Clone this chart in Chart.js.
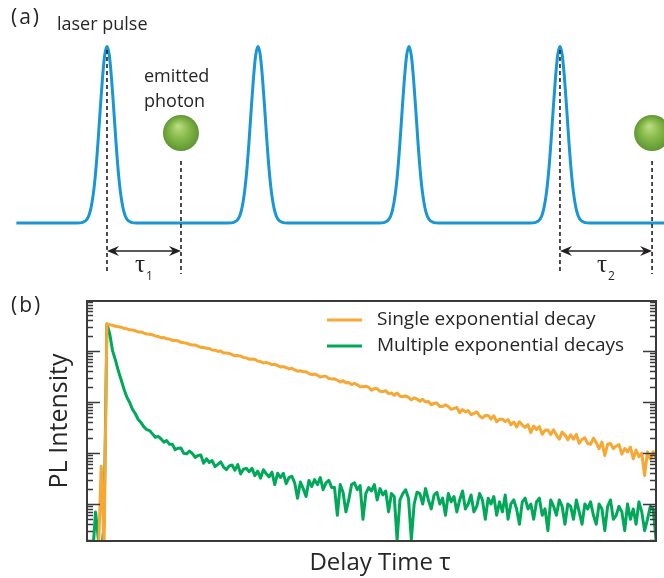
<!DOCTYPE html>
<html>
<head>
<meta charset="utf-8">
<script src="https://cdn.jsdelivr.net/npm/chart.js@4.4.0/dist/chart.umd.min.js"></script>
<style>
  html, body { margin: 0; padding: 0; background: #fff; }
  #wrap { position: relative; width: 664px; height: 578px; }
  canvas { position: absolute; left: 0; }
  #pulses { top: 0; }
  #decay { top: 290px; }
</style>
</head>
<body>
<div id="wrap">
  <canvas id="pulses" width="664" height="290"></canvas>
  <canvas id="decay" width="664" height="288"></canvas>
</div>
<script>
// ---- panel (a): laser pulse train, time in units where the pulse period is 10
const pulseTimes = [10, 20, 30, 40];
const pulseDt = [-2.0, -1.6, -1.3, -1.1, -0.9, -0.75, -0.6, -0.45, -0.3, -0.15, 0, 0.15, 0.3, 0.45, 0.6, 0.75, 0.9, 1.1, 1.3, 1.6, 2.0];
const pulseLevel = [0, 0.004, 0.024, 0.07, 0.169, 0.29, 0.453, 0.641, 0.82, 0.952, 1, 0.952, 0.82, 0.641, 0.453, 0.29, 0.169, 0.07, 0.024, 0.004, 0];
const traceStart = 4.0, traceEnd = 47;
const photonPulse = [0, 3];      // which pulse each photon follows
const photonDelay = [4.9, 6.1];  // tau_1, tau_2
const tauSubs = ['1', '2'];

// ---- panel (b): PL decay histograms, 0.5 ns bins
const timeBins = Array.from({ length: 201 }, (_, i) => -3.5 + 0.5 * i);
const seriesLabels = ['Single exponential decay', 'Multiple exponential decays'];
const singleDecay = [
  1, 1, 1, 1, 1, 55, 1.5,
  33800, 32610, 31960, 30440, 29910, 29260, 27840, 27200, 25940, 25700,
  24850, 23680, 23630, 22430, 21490, 21280, 20740, 19680, 19270, 18270,
  18350, 17430, 17130, 16160, 15990, 15820, 14800, 14460, 14250, 13430,
  13080, 13090, 12480, 11720, 11800, 11280, 11160, 10450, 10360, 9850,
  9950, 9150, 9090, 8950, 8450, 8040, 8110, 7940, 7470, 7320,
  6890, 6930, 6860, 6330, 6230, 5800, 5990, 5720, 5400, 5470,
  5190, 4840, 4950, 4750, 4440, 4570, 4240, 4020, 4090, 3910,
  3920, 3610, 3430, 3530, 3360, 3080, 3180, 3180, 2880, 2830,
  2840, 2670, 2460, 2610, 2380, 2400, 2200, 2330, 2170, 1990,
  1990, 2040, 1940, 1710, 1830, 1820, 1620, 1610, 1660, 1460,
  1500, 1350, 1500, 1310, 1260, 1320, 1230, 1100, 1210, 1140,
  1030, 1130, 1000, 1020, 880, 940, 950, 815, 817, 883,
  818, 717, 751, 778, 615, 710, 638, 677, 567, 595,
  638, 533, 487, 543, 545, 462, 537, 409, 460, 458,
  412, 451, 358, 403, 324, 409, 353, 317, 359, 251,
  338, 287, 328, 232, 279, 282, 230, 284, 225, 187,
  257, 227, 181, 226, 187, 231, 154, 184, 198, 153,
  148, 195, 160, 122, 164, 89, 149, 154, 122, 137,
  146, 95, 122, 105, 131, 77, 114, 85, 99, 36,
  105, 76, 106, 80
];
const multiDecay = [
  1, 1, 1, 7, 2, 1, 4,
  33800, 21580, 10030, 6600, 4083, 2734, 1782, 1248, 977, 716,
  588, 453, 394, 324, 288, 275, 237, 203, 212, 190,
  163, 175, 148, 148, 116, 124, 125, 99, 96, 109,
  98, 82, 89, 91, 63, 77, 65, 71, 54, 60,
  67, 53, 47, 56, 58, 46, 59, 39, 48, 50,
  43, 50, 36, 44, 32, 47, 39, 34, 42, 24,
  40, 33, 40, 25, 33, 35, 26, 13, 27, 20,
  14, 29, 22, 30, 24, 33, 19, 26, 29, 21,
  21, 6, 24, 17, 7, 12, 24, 26, 19, 23,
  5, 16, 21, 18, 24, 12, 20, 15, 18, 7,
  16, 14, 2, 12, 16, 19, 13, 2, 10, 17,
  16, 10, 20, 12, 8, 15, 17, 10, 13, 6,
  16, 11, 14, 7, 12, 18, 8, 10, 15, 7,
  9, 16, 12, 5, 13, 10, 14, 6, 11, 7,
  15, 5, 10, 12, 8, 4, 11, 13, 8, 10,
  5, 11, 13, 6, 8, 3, 12, 9, 6, 12,
  9, 4, 10, 9, 5, 12, 7, 4, 10, 8,
  11, 6, 4, 10, 8, 3, 9, 12, 5, 6,
  9, 7, 3, 10, 5, 8, 4, 11, 7, 3,
  5, 9, 8, 2
];

const FONT = '"Open Sans", "Noto Sans", sans-serif';
const TEXT = '#262626';
const BLUE = '#1a96d4';
const ORANGE = '#f7a733';
const GREEN = '#00a85a';
const INK = '#231f20';

const pulseTrain = [{ x: traceStart, y: 0 }];
pulseTimes.forEach(t0 => pulseDt.forEach((dt, k) => pulseTrain.push({ x: t0 + dt, y: pulseLevel[k] })));
pulseTrain.push({ x: traceEnd, y: 0 });

function dashed(ctx, x, y1, y2) {
  ctx.beginPath();
  ctx.moveTo(x, y1);
  ctx.lineTo(x, y2);
  ctx.stroke();
}
function arrowHead(ctx, x, y, dir) {
  ctx.beginPath();
  ctx.moveTo(x, y);
  ctx.lineTo(x + dir * 12, y - 5);
  ctx.lineTo(x + dir * 8, y);
  ctx.lineTo(x + dir * 12, y + 5);
  ctx.closePath();
  ctx.fill();
}
function sphere(ctx, cx, cy, r) {
  const g = ctx.createRadialGradient(cx - 3, cy - 7, 1, cx, cy, r);
  g.addColorStop(0, '#b8da80');
  g.addColorStop(0.45, '#8bbd4d');
  g.addColorStop(1, '#5e9632');
  ctx.fillStyle = g;
  ctx.beginPath();
  ctx.arc(cx, cy, r, 0, Math.PI * 2);
  ctx.fill();
}

const pulseMarks = {
  id: 'pulseMarks',
  afterDatasetsDraw(chart) {
    const { ctx, scales: { x } } = chart;
    ctx.save();
    ctx.fillStyle = TEXT;
    ctx.font = '21px ' + FONT;
    ctx.letterSpacing = '2px';
    ctx.fillText('(a)', 11, 24);
    ctx.letterSpacing = '0px';
    ctx.font = '18px ' + FONT;
    ctx.fillText('laser pulse', 57, 30);
    ctx.fillText('emitted', 144, 82);
    ctx.fillText('photon', 144, 107);

    photonPulse.forEach((p, k) => {
      const xp = x.getPixelForValue(pulseTimes[p]);
      const xe = x.getPixelForValue(pulseTimes[p] + photonDelay[k]);
      ctx.strokeStyle = INK;
      ctx.lineWidth = 1.6;
      ctx.setLineDash([4, 3]);
      dashed(ctx, xp, 50, 274);
      dashed(ctx, xe, 161, 274);
      ctx.setLineDash([]);
      ctx.fillStyle = INK;
      ctx.beginPath();
      ctx.moveTo(xp + 6, 251);
      ctx.lineTo(xe - 6, 251);
      ctx.stroke();
      arrowHead(ctx, xp, 251, 1);
      arrowHead(ctx, xe, 251, -1);
      const mid = (xp + xe) / 2;
      ctx.fillStyle = TEXT;
      ctx.font = '25px "Liberation Serif", serif';
      ctx.textAlign = 'right';
      ctx.fillText('τ', mid + 1, 272);
      ctx.textAlign = 'left';
      ctx.font = '12px ' + FONT;
      ctx.fillText(tauSubs[k], mid + 2, 280);
      sphere(ctx, xe, 133, 18);
    });
    ctx.restore();
  }
};

new Chart(document.getElementById('pulses'), {
  type: 'line',
  data: {
    datasets: [{
      data: pulseTrain,
      borderColor: BLUE,
      borderWidth: 3,
      pointRadius: 0,
      cubicInterpolationMode: 'monotone',
      fill: false
    }]
  },
  options: {
    responsive: false,
    animation: false,
    devicePixelRatio: 1,
    layout: { padding: 0 },
    plugins: { legend: { display: false }, tooltip: { enabled: false } },
    scales: {
      x: { type: 'linear', display: false, min: 2.914, max: 46.89 },
      y: { type: 'linear', display: false, min: -0.3796, max: 1.2635 }
    }
  },
  plugins: [pulseMarks]
});

const decayFrame = {
  id: 'decayFrame',
  afterDatasetsDraw(chart) {
    const { ctx, chartArea: a, scales: { y } } = chart;
    ctx.save();
    ctx.strokeStyle = '#3a3a3a';
    ctx.lineWidth = 2;
    ctx.strokeRect(a.left, a.top, a.right - a.left, a.bottom - a.top);
    ctx.lineWidth = 1.5;
    for (let d = 1; d <= 100000; d *= 10) {
      for (let m = 1; m <= 9; m++) {
        const v = d * m;
        if (v < y.min || v > y.max) continue;
        const py = Math.round(y.getPixelForValue(v)) + 0.5;
        const len = m === 1 ? 13 : 6;
        ctx.beginPath();
        ctx.moveTo(a.left, py); ctx.lineTo(a.left + len, py);
        ctx.moveTo(a.right, py); ctx.lineTo(a.right - len, py);
        ctx.stroke();
      }
    }

    ctx.fillStyle = TEXT;
    ctx.font = '21px ' + FONT;
    ctx.letterSpacing = '2px';
    ctx.fillText('(b)', 11, 22);
    ctx.letterSpacing = '0px';

    ctx.font = '24px ' + FONT;
    ctx.textAlign = 'center';
    ctx.fillText('Delay Time τ', 380, 280);
    ctx.save();
    ctx.translate(67, 131);
    ctx.rotate(-Math.PI / 2);
    ctx.font = '25px ' + FONT;
    ctx.fillText('PL Intensity', 0, 0);
    ctx.restore();

    // legend, top right inside the frame
    ctx.textAlign = 'left';
    ctx.textBaseline = 'middle';
    ctx.font = '19px ' + FONT;
    chart.data.datasets.forEach((ds, k) => {
      const ly = 30 + k * 26;
      ctx.strokeStyle = ds.borderColor;
      ctx.lineWidth = 3;
      ctx.beginPath();
      ctx.moveTo(327, ly); ctx.lineTo(362, ly);
      ctx.stroke();
      ctx.fillStyle = TEXT;
      ctx.fillText(ds.label, 377, ly);
    });
    ctx.restore();
  }
};

new Chart(document.getElementById('decay'), {
  type: 'line',
  data: {
    labels: timeBins,
    datasets: [
      { label: seriesLabels[0], data: singleDecay, borderColor: ORANGE },
      { label: seriesLabels[1], data: multiDecay, borderColor: GREEN }
    ].map(ds => Object.assign(ds, { borderWidth: 3, pointRadius: 0, borderJoinStyle: 'round', fill: false, tension: 0 }))
  },
  options: {
    responsive: false,
    animation: false,
    devicePixelRatio: 1,
    layout: { padding: { left: 87, right: 8, top: 11, bottom: 37 } },
    plugins: { legend: { display: false }, tooltip: { enabled: false } },
    scales: {
      x: { type: 'linear', display: false, min: -3.5, max: 96.5 },
      y: { type: 'logarithmic', display: false, min: 1.88, max: 95500 }
    }
  },
  plugins: [decayFrame]
});
</script>
</body>
</html>
